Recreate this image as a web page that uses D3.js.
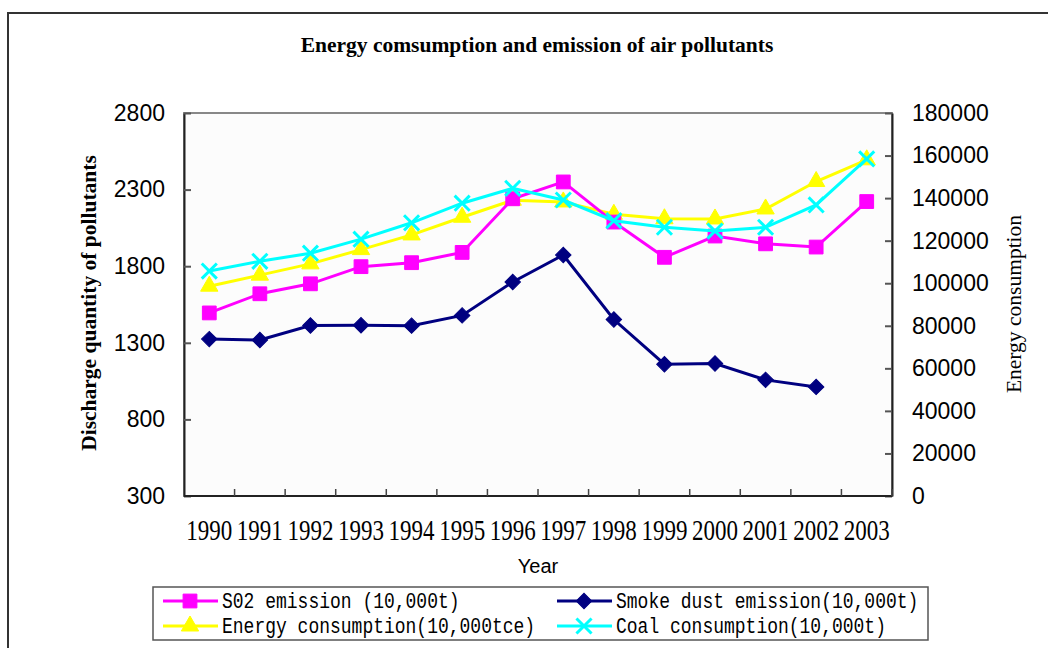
<!DOCTYPE html>
<html>
<head>
<meta charset="utf-8">
<script src="https://cdn.jsdelivr.net/npm/d3@7"></script>
<style>
  body { margin: 0; background: #fff; }
  svg { display: block; }
</style>
</head>
<body>
<div id="chart"></div>
<script>
// Datos
const years = ['1990', '1991', '1992', '1993', '1994', '1995', '1996', '1997', '1998', '1999', '2000', '2001', '2002', '2003'];
const so2 = [1495, 1620, 1685, 1797, 1823, 1890, 2240, 2350, 2088, 1858, 1997, 1946, 1925, 2222];
const smoke = [1324, 1318, 1413, 1415, 1412, 1479, 1697, 1873, 1452, 1160, 1165, 1058, 1012, null];
const energy = [98600, 103800, 109100, 115800, 122700, 131000, 139000, 138200, 132400, 130300, 130200, 134900, 147800, 158000];
const coal = [105700, 110300, 114100, 120700, 128400, 137600, 144600, 139100, 129400, 126300, 124500, 126300, 136800, 158400];
const leftTicks = [300, 800, 1300, 1800, 2300, 2800];
const rightTicks = [0, 20000, 40000, 60000, 80000, 100000, 120000, 140000, 160000, 180000];

const width = 1048;
const height = 648;
const plot = { left: 184, right: 892, top: 113, bottom: 496 };

const svg = d3.select("#chart")
    .append("svg")
    .attr("width", width)
    .attr("height", height);

// Marco exterior
svg.append("rect")
    .attr("x", 8)
    .attr("y", 13)
    .attr("width", 1100)
    .attr("height", 700)
    .attr("fill", "none")
    .attr("stroke", "#333")
    .attr("stroke-width", 2);

// Escalas
const x = d3.scaleBand().domain(years).range([plot.left, plot.right]);
const yLeft = d3.scaleLinear().domain([300, 2800]).range([plot.bottom, plot.top]);
const yRight = d3.scaleLinear().domain([0, 180000]).range([plot.bottom, plot.top]);
const cx = d => x(d) + x.bandwidth() / 2;

// Fondo del área de trazado
svg.append("rect")
    .attr("x", plot.left)
    .attr("y", plot.top)
    .attr("width", plot.right - plot.left)
    .attr("height", plot.bottom - plot.top)
    .attr("fill", "#fcfcfc")
    .attr("stroke", "#888")
    .attr("stroke-width", 2);

// Ejes
const leftAxis = svg.append("g")
    .attr("transform", `translate(${plot.left},0)`)
    .call(d3.axisLeft(yLeft).tickValues(leftTicks).tickFormat(d3.format("d"))
        .tickSizeInner(-7).tickSizeOuter(0).tickPadding(19));

const rightAxis = svg.append("g")
    .attr("transform", `translate(${plot.right},0)`)
    .call(d3.axisRight(yRight).tickValues(rightTicks).tickFormat(d3.format("d"))
        .tickSizeInner(-7).tickSizeOuter(0).tickPadding(20));

[leftAxis, rightAxis].forEach(g => {
    g.select(".domain").attr("stroke", "#222").attr("stroke-width", 2);
    g.selectAll(".tick line").attr("stroke", "#555").attr("stroke-width", 2);
    g.selectAll(".tick text")
        .attr("fill", "#000")
        .style("font-family", "'Liberation Sans', Arial, sans-serif")
        .style("font-size", "23px");
});

// Eje X: línea, marcas entre categorías y etiquetas
svg.append("line")
    .attr("x1", plot.left).attr("x2", plot.right)
    .attr("y1", plot.bottom).attr("y2", plot.bottom)
    .attr("stroke", "#222").attr("stroke-width", 2);

svg.selectAll(".xtick")
    .data(years.slice(1).concat(['end']))
    .enter()
    .append("line")
    .attr("class", "xtick")
    .attr("x1", d => d === 'end' ? plot.right : x(d))
    .attr("x2", d => d === 'end' ? plot.right : x(d))
    .attr("y1", plot.bottom)
    .attr("y2", plot.bottom - 7)
    .attr("stroke", "#444")
    .attr("stroke-width", 1.5);

svg.selectAll(".xlabel")
    .data(years)
    .enter()
    .append("text")
    .attr("class", "xlabel")
    .attr("transform", d => `translate(${cx(d)},540) scale(1,1.25)`)
    .attr("text-anchor", "middle")
    .style("font-family", "'Liberation Serif', 'Times New Roman', serif")
    .style("font-size", "23px")
    .text(d => d);

// Títulos
svg.append("text")
    .attr("x", 537)
    .attr("y", 52)
    .attr("text-anchor", "middle")
    .style("font-family", "'Liberation Serif', 'Times New Roman', serif")
    .style("font-weight", "bold")
    .style("font-size", "21.5px")
    .text("Energy comsumption and emission of air pollutants");

svg.append("text")
    .attr("transform", "translate(96,303) rotate(-90)")
    .attr("text-anchor", "middle")
    .style("font-family", "'Liberation Serif', 'Times New Roman', serif")
    .style("font-weight", "bold")
    .style("font-size", "21.5px")
    .text("Discharge quantity of pollutants");

svg.append("text")
    .attr("transform", "translate(1021,304) rotate(-90)")
    .attr("text-anchor", "middle")
    .style("font-family", "'Liberation Serif', 'Times New Roman', serif")
    .style("font-size", "21.5px")
    .text("Energy consumption");

svg.append("text")
    .attr("x", 538)
    .attr("y", 573)
    .attr("text-anchor", "middle")
    .style("font-family", "'Liberation Sans', Arial, sans-serif")
    .style("font-size", "20px")
    .text("Year");

// Series
const series = [
    { name: "S02 emission (10,000t)", values: so2, scale: yLeft, color: "#FF00FF", symbol: d3.symbolSquare, size: 190, rotate: 0, stroke: false },
    { name: "Smoke dust emission(10,000t)", values: smoke, scale: yLeft, color: "#000080", symbol: d3.symbolSquare, size: 120, rotate: 45, stroke: false },
    { name: "Energy consumption(10,000tce)", values: energy, scale: yRight, color: "#FFFF00", symbol: d3.symbolTriangle, size: 130, rotate: 0, stroke: false },
    { name: "Coal consumption(10,000t)", values: coal, scale: yRight, color: "#00FFFF", symbol: d3.symbolTimes, size: 150, rotate: 0, stroke: true }
];

const drawOrder = [1, 2, 0, 3];

drawOrder.forEach(i => {
    const s = series[i];
    const pts = years.map((yr, j) => ({ yr, v: s.values[j] })).filter(d => d.v !== null);

    const line = d3.line()
        .x(d => cx(d.yr))
        .y(d => s.scale(d.v));

    svg.append("path")
        .datum(pts)
        .attr("fill", "none")
        .attr("stroke", s.color)
        .attr("stroke-width", 3)
        .attr("d", line);

    svg.selectAll(null)
        .data(pts)
        .enter()
        .append("path")
        .attr("transform", d => `translate(${cx(d.yr)},${s.scale(d.v)}) rotate(${s.rotate})`)
        .attr("d", d3.symbol().type(s.symbol).size(s.size))
        .attr("fill", s.stroke ? "none" : s.color)
        .attr("stroke", s.color)
        .attr("stroke-width", s.stroke ? 3 : 1);
});

// Leyenda
const legend = svg.append("g");

legend.append("rect")
    .attr("x", 153)
    .attr("y", 587)
    .attr("width", 775)
    .attr("height", 53)
    .attr("fill", "#fff")
    .attr("stroke", "#555")
    .attr("stroke-width", 1.5);

const legendPos = [
    { x: 163, y: 601 },
    { x: 557, y: 601 },
    { x: 163, y: 626 },
    { x: 557, y: 626 }
];

series.forEach((s, i) => {
    const p = legendPos[i];
    const item = legend.append("g").attr("transform", `translate(${p.x},${p.y})`);

    item.append("line")
        .attr("x1", 0).attr("x2", 55)
        .attr("y1", 0).attr("y2", 0)
        .attr("stroke", s.color)
        .attr("stroke-width", 3);

    item.append("path")
        .attr("transform", `translate(27,0) rotate(${s.rotate})`)
        .attr("d", d3.symbol().type(s.symbol).size(s.size))
        .attr("fill", s.stroke ? "none" : s.color)
        .attr("stroke", s.color)
        .attr("stroke-width", s.stroke ? 3 : 1);

    item.append("text")
        .attr("transform", "translate(59,7) scale(1,1.2)")
        .style("font-family", "'Liberation Mono', 'DejaVu Sans Mono', monospace")
        .style("font-size", "18px")
        .text(s.name);
});
</script>
</body>
</html>
